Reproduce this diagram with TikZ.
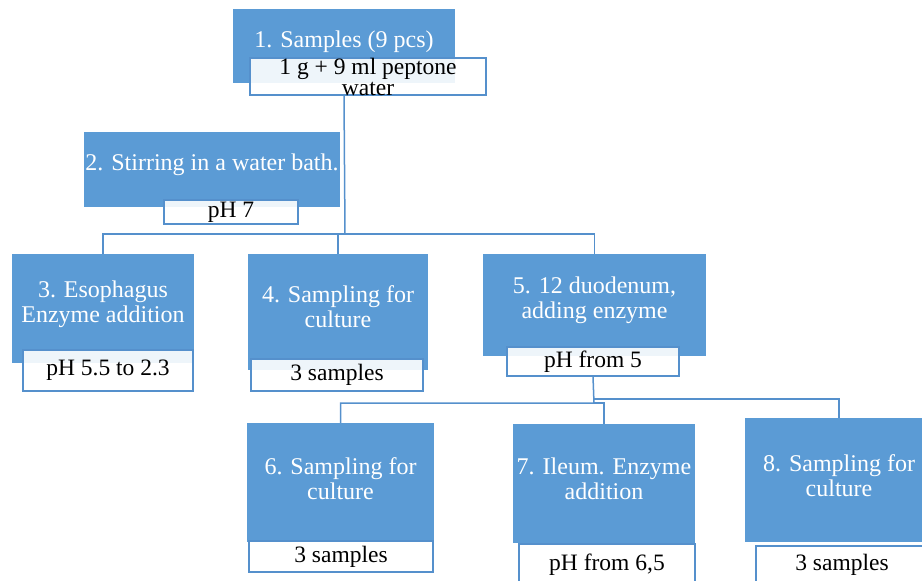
\documentclass[tikz,border=0pt]{standalone}
\usepackage{fontspec}
\setmainfont{Liberation Serif}
\usepackage{xcolor}
\usepackage{tikz}
\usetikzlibrary{positioning, calc}

\definecolor{stageblue}{HTML}{5B9BD5}
\definecolor{lineblue}{HTML}{5590CC}

\begin{document}
\begin{tikzpicture}[
    x=1pt, y=-1pt,
    stage/.style={rectangle, fill=stageblue, inner sep=0pt},
    stagetext/.style={text=white, font=\fontsize{24}{25}\selectfont, align=center, inner sep=0pt},
    note/.style={rectangle, draw=lineblue, line width=1.5pt, fill=white, fill opacity=0.9, text opacity=1,
                 inner sep=0pt, font=\fontsize{23.5}{21}\selectfont, align=center},
    link/.style={draw=lineblue, line width=1.5pt},
]
\useasboundingbox (0,0) rectangle (922,581);
\clip (0,0) rectangle (922,581);

% ======== STAGES ========
\node[stage, minimum width=222pt, minimum height=74pt,
      label={[stagetext, yshift=4pt]center:1. Samples (9 pcs)}] (sample) at (344,46) {};
\node[stage, minimum width=256pt, minimum height=75pt,
      label={[stagetext, yshift=4.5pt]center:2. Stirring in a water bath.}] (stir) at (212,169.5) {};
\node[stage, minimum width=182pt, minimum height=109pt,
      label={[stagetext, yshift=4.5pt]center:{3. Esophagus\\Enzyme addition}}] (esoph) at (103,308.5) {};
\node[stage, minimum width=180pt, minimum height=116pt,
      label={[stagetext, yshift=5pt]center:{4. Sampling for\\culture}}] (cult1) at (338,312) {};
\node[stage, minimum width=223pt, minimum height=102pt,
      label={[stagetext, yshift=5pt]center:{5. 12 duodenum,\\adding enzyme}}] (duod) at (594.5,305) {};
\node[stage, minimum width=187pt, minimum height=119pt,
      label={[stagetext, yshift=3.5pt]center:{6. Sampling for\\culture}}] (cult2) at (340.5,482.5) {};
\node[stage, minimum width=182pt, minimum height=119pt,
      label={[stagetext, yshift=4.5pt]center:{7. Ileum. Enzyme\\addition}}] (ileum) at (604,483.5) {};
\node[stage, minimum width=188pt, minimum height=124pt,
      label={[stagetext, yshift=4.5pt]center:{8. Sampling for\\culture}}] (cult3) at (839,480) {};

% ======== NOTES ========
\node[note, minimum width=236pt, minimum height=37pt, text depth=0pt] (samplenote) at (368,76.5) {1 g + 9 ml peptone\\water};
\node[note, minimum width=134pt, minimum height=24pt] (stirnote) at (231,212) {pH 7};
\node[note, minimum width=170pt, minimum height=41pt] (esophnote) at (108,370.5) {pH 5.5 to 2.3};
\node[note, minimum width=172pt, minimum height=32pt] (cult1note) at (337,375) {3 samples};
\node[note, minimum width=172pt, minimum height=29pt] (duodnote) at (593,361.5) {pH from 5};
\node[note, minimum width=184pt, minimum height=31pt] (cult2note) at (341,556.5) {3 samples};
\node[note, minimum width=176pt, minimum height=41pt] (ileumnote) at (607,564.5) {pH from 6,5};
\node[note, minimum width=172pt, minimum height=38pt] (cult3note) at (842,565) {3 samples};

% ======== CONNECTORS ========
\coordinate (busa) at (345,234);
\coordinate (busb) at (594,403);
\coordinate (busc) at (594,399);

\draw[link] (sample |- samplenote.south) -- (busa);
\draw[link] (busa) -| (esoph.north);
\draw[link] (busa) -| (cult1.north);
\draw[link] (busa) -| (duod.north);

\draw[link] (duodnote.south) -- (busb) -| (cult2.north);
\draw[link] (busb) -| (ileum.north);
\draw[link] (busc) -| (cult3.north);

\end{tikzpicture}
\end{document}
